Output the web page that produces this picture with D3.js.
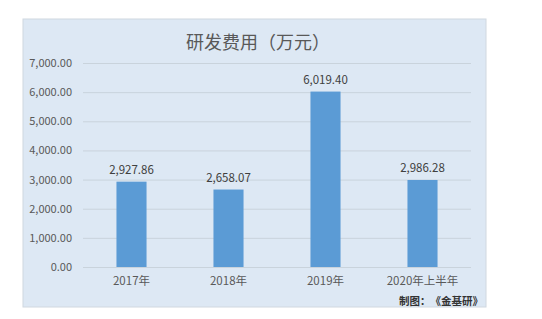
<!DOCTYPE html>
<html>
<head>
<meta charset="utf-8">
<script src="https://cdn.jsdelivr.net/npm/d3@7"></script>
<style>
  body { margin: 0; background: #fff; }
  text { font-family: "Noto Sans CJK SC", "Open Sans", sans-serif; }
</style>
</head>
<body>
<div id="chart"></div>
<script>
// data
const categories = ["2017年", "2018年", "2019年", "2020年上半年"];
const values = [2927.86, 2658.07, 6019.40, 2986.28];
const yTicks = [0, 1000, 2000, 3000, 4000, 5000, 6000, 7000];

const W = 542, H = 319;
const svg = d3.select("#chart").append("svg")
  .attr("width", W)
  .attr("height", H);

// panel
svg.append("rect")
  .attr("x", 23).attr("y", 19)
  .attr("width", 463).attr("height", 288)
  .attr("fill", "#dde8f4")
  .attr("stroke", "#d0d8e0");

const x = d3.scaleBand()
  .domain(categories)
  .range([83, 471])
  .paddingInner(0.69)
  .paddingOuter(0.345);

const y = d3.scaleLinear()
  .domain([0, 7000])
  .range([267, 63]);

const fmt = d3.format(",.2f");

// gridlines + y labels
const yAxis = svg.append("g")
  .attr("transform", "translate(83,0)")
  .call(d3.axisLeft(y).tickValues(yTicks).tickFormat(fmt).tickSize(-388).tickPadding(11));
yAxis.select(".domain").remove();
yAxis.selectAll("line").attr("stroke", "#c9d3dc");
yAxis.selectAll("text")
  .attr("fill", "#595959")
  .style("font-size", "11px");

// x labels
const xAxis = svg.append("g")
  .attr("transform", "translate(0,267)")
  .call(d3.axisBottom(x).tickSize(0).tickPadding(10));
xAxis.select(".domain").remove();
xAxis.selectAll("text")
  .attr("fill", "#595959")
  .style("font-size", "11.5px");

// bars
svg.selectAll("rect.bar")
  .data(values)
  .enter().append("rect")
  .attr("class", "bar")
  .attr("x", (d, i) => x(categories[i]))
  .attr("width", x.bandwidth())
  .attr("y", d => y(d))
  .attr("height", d => y(0) - y(d))
  .attr("fill", "#5b9bd5");

// value labels
svg.selectAll("text.val")
  .data(values)
  .enter().append("text")
  .attr("class", "val")
  .attr("x", (d, i) => x(categories[i]) + x.bandwidth() / 2)
  .attr("y", d => y(d) - 8)
  .attr("text-anchor", "middle")
  .attr("fill", "#404040")
  .style("font-size", "11.5px")
  .text(fmt);

// title
svg.append("text")
  .attr("x", 258).attr("y", 49)
  .attr("text-anchor", "middle")
  .attr("fill", "#595959")
  .style("font-size", "18px")
  .text("研发费用（万元）");

// credit
svg.append("text")
  .attr("x", 483).attr("y", 305)
  .attr("text-anchor", "end")
  .attr("fill", "#333")
  .style("font-size", "10.5px")
  .style("font-weight", "bold")
  .text("制图：　《金基研》");
</script>
</body>
</html>
